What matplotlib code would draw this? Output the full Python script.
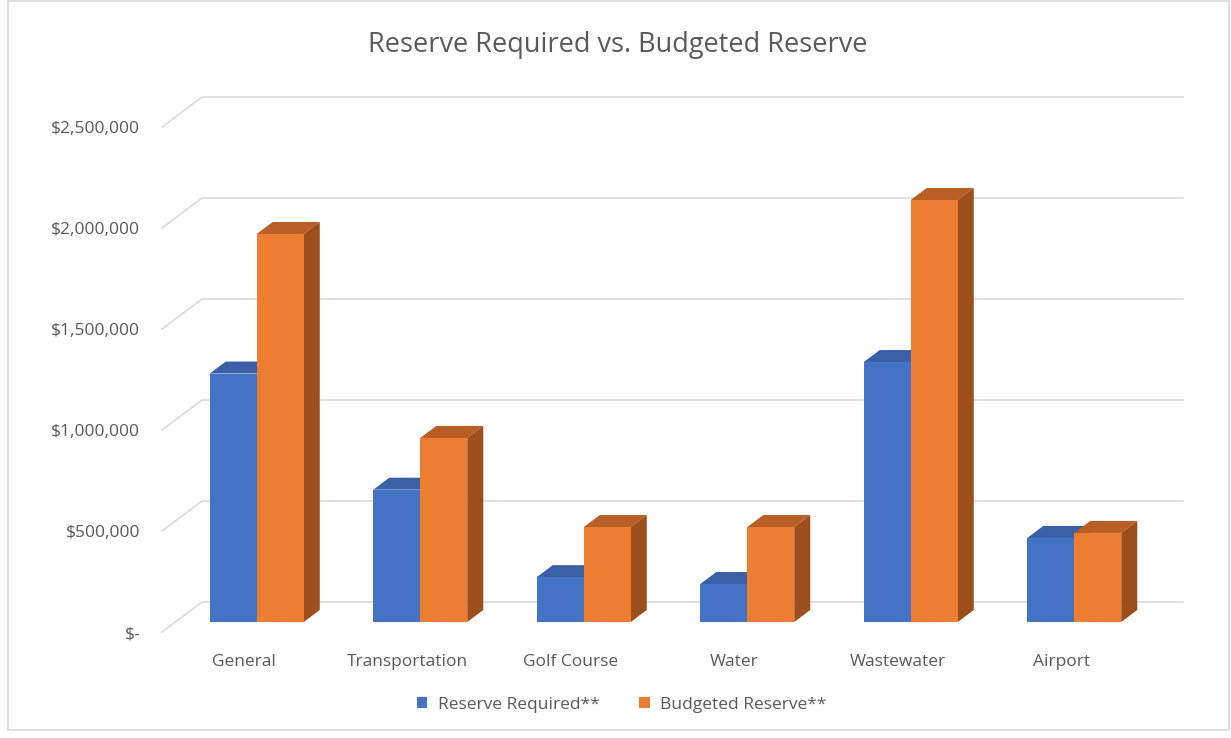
import matplotlib
matplotlib.use("Agg")
import matplotlib.pyplot as plt
import matplotlib.transforms as mtransforms
from matplotlib.patches import Polygon, Rectangle, Patch
from matplotlib.lines import Line2D
from matplotlib.ticker import FuncFormatter

plt.rcParams['font.family'] = ['Open Sans', 'DejaVu Sans']

# data
categories = ["General", "Transportation", "Golf Course", "Water", "Wastewater", "Airport"]
reserve_required = [1230000, 655000, 222000, 188000, 1287000, 416000]
budgeted_reserve = [1921000, 911000, 470000, 470000, 2089000, 441000]
series_names = ["Reserve Required**", "Budgeted Reserve**"]
yticks = [0, 500000, 1000000, 1500000, 2000000, 2500000]

blue = "#4472C4"
orange = "#ED7D31"
face_colors = {
    blue: ("#3A61A8", "#2F5597"),    # top, side
    orange: ("#B95E24", "#9C4F1A"),
}
grid_col = "#D9D9D9"
text_col = "#595959"

W, H = 1231, 738
fig = plt.figure(figsize=(W / 100, H / 100), dpi=100)
ax = fig.add_axes([175 / W, 116 / H, 981 / W, 505 / H])
ax.set_xlim(-0.5, len(categories) - 0.5)
ax.set_ylim(0, 2500000)
for s in ax.spines.values():
    s.set_visible(False)
ax.tick_params(length=0, colors=text_col, labelsize=12.5)

# depth offsets in pixels
wall = (27, 20)      # back wall relative to bar front plane
front = (-13, -10)   # front plane of the floor
depth = (16, 12)     # bar depth

ident = mtransforms.IdentityTransform()


def disp(x, y, off=(0, 0)):
    px, py = ax.transData.transform((x, y))
    return (px + off[0], py + off[1])


# back wall gridlines + diagonal side lines
x_left, x_right = ax.get_xlim()
for v in yticks:
    a = disp(x_left, v, wall)
    b = disp(x_right, v, wall)
    c = disp(x_left, v, front)
    ax.add_line(Line2D([c[0], a[0], b[0]], [c[1], a[1], b[1]], transform=ident,
                       color=grid_col, lw=1.2, zorder=0, clip_on=False))

width = 0.2875
x = list(range(len(categories)))
for k, (vals, col) in enumerate([(reserve_required, blue), (budgeted_reserve, orange)]):
    xs = [xi + (k - 0.5) * width for xi in x]
    bars = ax.bar(xs, vals, width=width, color=col, zorder=3 + 2 * k, label=series_names[k])
    top_c, side_c = face_colors[col]
    for xi, v in zip(xs, vals):
        x0, x1 = xi - width / 2, xi + width / 2
        top = [disp(x0, v), disp(x1, v), disp(x1, v, depth), disp(x0, v, depth)]
        side = [disp(x1, 0), disp(x1, v), disp(x1, v, depth), disp(x1, 0, depth)]
        ax.add_patch(Polygon(top, closed=True, transform=ident, facecolor=top_c,
                             edgecolor="none", zorder=2 + 2 * k, clip_on=False))
        ax.add_patch(Polygon(side, closed=True, transform=ident, facecolor=side_c,
                             edgecolor="none", zorder=2 + 2 * k, clip_on=False))

ax.set_yticks(yticks)
ax.yaxis.set_major_formatter(FuncFormatter(lambda v, p: "$-" if v == 0 else "${:,.0f}".format(v)))
ax.tick_params(axis='y', pad=25)
for lab in ax.get_yticklabels():
    lab.set_transform(lab.get_transform() + mtransforms.ScaledTranslation(0, -0.10, fig.dpi_scale_trans))

ax.set_xticks(x)
ax.set_xticklabels(categories)
ax.tick_params(axis='x', pad=23)
for lab in ax.get_xticklabels():
    lab.set_transform(lab.get_transform() + mtransforms.ScaledTranslation(-0.13, 0, fig.dpi_scale_trans))

fig.text(0.502, 1 - 45 / H, "Reserve Required vs. Budgeted Reserve", ha="center", va="center",
         fontsize=19.5, color=text_col)

handles = [Patch(facecolor=blue, label=series_names[0]), Patch(facecolor=orange, label=series_names[1])]
fig.legend(handles=handles, loc="center", bbox_to_anchor=(0.505, 1 - 705 / H), ncol=2, frameon=False,
           fontsize=12.5, labelcolor=text_col, handlelength=0.6, handleheight=0.6,
           handletextpad=0.6, columnspacing=2.3)

fig.add_artist(Rectangle((8 / W, 8 / H), 1 - 10 / W, 1 - 9 / H, transform=fig.transFigure,
                         fill=False, edgecolor=grid_col, lw=1.2))

fig.savefig("out.png", dpi=100)
